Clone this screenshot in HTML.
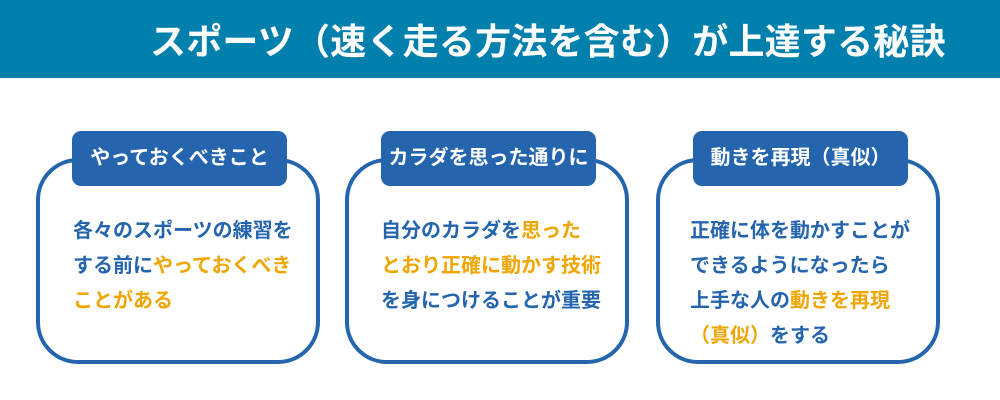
<!DOCTYPE html>
<html><head><meta charset="utf-8"><style>
body{margin:0;width:1000px;height:400px;background:#fff;position:relative;overflow:hidden;font-family:"Liberation Sans","Noto Sans CJK JP",sans-serif;font-weight:bold}
.hd{position:absolute;left:0;top:0;width:1000px;height:78px;background:#0180ae}
.hd span{position:absolute;left:150px;top:13px;font-size:36px;color:#fff;white-space:nowrap;letter-spacing:0.2px}
.box{position:absolute;top:158px;width:276px;height:198px;border:4px solid #2565ae;border-radius:42px;background:#fff}
.tag{position:absolute;top:131px;height:55px;background:#2565ae;border-radius:9px;color:#fff;font-size:20px;line-height:55px;text-align:center}
.tx{position:absolute;top:214px;font-size:20px;line-height:35px;color:#2565ae;white-space:nowrap}
.o{color:#f0a500}
</style></head><body>
<div class="hd"><span>スポーツ（速く走る方法を含む）が上達する秘訣</span></div>
<div class="box" style="left:36px"></div>
<div class="box" style="left:345px"></div>
<div class="box" style="left:656px"></div>
<div class="tag" style="left:72px;width:215px">やっておくべきこと</div>
<div class="tag" style="left:381px;width:215px">カラダを思った通りに</div>
<div class="tag" style="left:693px;width:215px">動きを再現（真似）</div>
<div class="tx" style="left:73px">各々のスポーツの練習を<br>する前に<span class="o">やっておくべき</span><br><span class="o">ことがある</span></div>
<div class="tx" style="left:381px">自分のカラダを<span class="o">思った</span><br><span class="o">とおり正確に動かす技術</span><br>を身につけることが重要</div>
<div class="tx" style="left:690px">正確に体を動かすことが<br>できるようになったら<br>上手な人の<span class="o">動きを再現</span><br><span class="o">（真似）</span>をする</div>
</body></html>
